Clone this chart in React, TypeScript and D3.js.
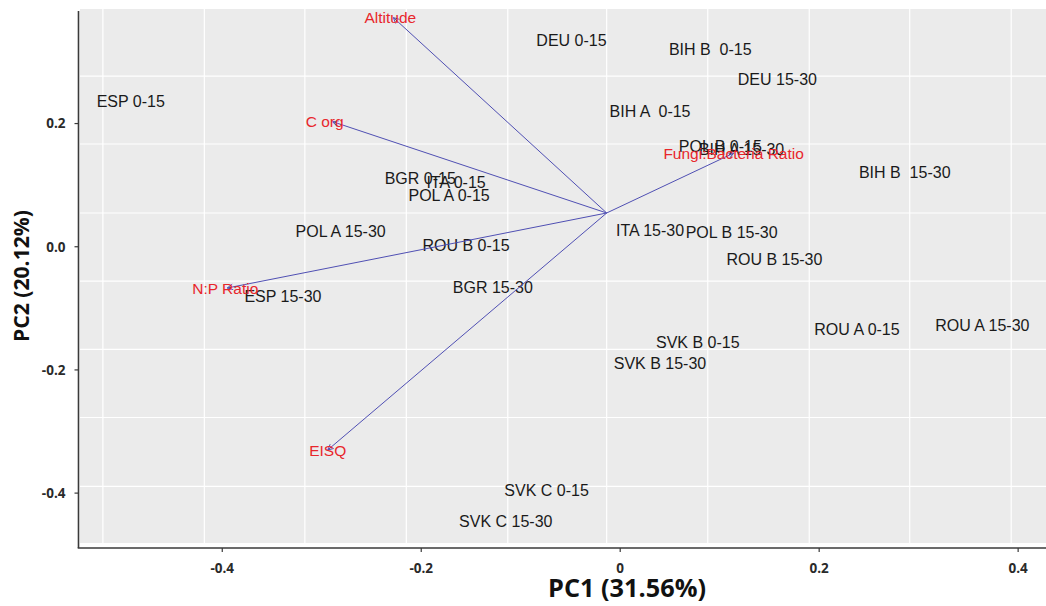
import React from "react";
import * as d3 from "d3";

// sample scores (PC1, PC2)
const sampleNames = [
  "ESP 0-15", "DEU 0-15", "BIH B  0-15", "DEU 15-30", "BIH A  0-15", "POL B 0-15",
  "BIH A 15-30", "BGR 0-15", "ITA 0-15", "POL A 0-15", "POL A 15-30", "ROU B 0-15",
  "ITA 15-30", "POL B 15-30", "ROU B 15-30", "BIH B  15-30", "ESP 15-30", "BGR 15-30",
  "SVK B 0-15", "SVK B 15-30", "ROU A 0-15", "ROU A 15-30", "SVK C 0-15", "SVK C 15-30",
];
const pc1 = [
  -0.492, -0.049, 0.0905, 0.158, 0.030, 0.1006,
  0.122, -0.201, -0.165, -0.172, -0.281, -0.155,
  0.030, 0.112, 0.155, 0.286, -0.339, -0.128,
  0.078, 0.040, 0.238, 0.364, -0.074, -0.115,
];
const pc2 = [
  0.237, 0.336, 0.320, 0.272, 0.220, 0.163,
  0.159, 0.112, 0.105, 0.084, 0.025, 0.003,
  0.027, 0.024, -0.020, 0.121, -0.080, -0.065,
  -0.155, -0.189, -0.134, -0.127, -0.395, -0.446,
];

// variable loadings (arrow tips) and the arrow origin
const varNames = ["Altitude", "C org", "Fungi:Bacteria Ratio", "N:P Ratio", "EISQ"];
const loadX = [-0.228, -0.289, 0.114, -0.395, -0.294];
const loadY = [0.372, 0.203, 0.152, -0.067, -0.330];
const originX = -0.0136;
const originY = 0.0548;

const xTicks = [-0.4, -0.2, 0, 0.2, 0.4];
const xTickLabels = ["-0.4", "-0.2", "0", "0.2", "0.4"];
const yTicks = [0.2, 0, -0.2, -0.4];
const yTickLabels = ["0.2", "0.0", "-0.2", "-0.4"];

// background grid of the original panel (does not line up with the ticks)
const gridX = [-0.520, -0.418, -0.317, -0.215, -0.113, -0.0136, 0.088, 0.19, 0.291, 0.393];
const gridY = [0.277, 0.1668, 0.0548, -0.0557, -0.1667, -0.2772, -0.389];

const W = 1046;
const H = 606;
const panel = { left: 80, right: 1046, top: 9, bottom: 543 };
const axisX = 78.5;
const axisY = 548;

// small nudges of the red labels off the arrow tips
const labelShift = [-3, -8, 0, -2, 0];

export default function App() {
  const x = d3.scaleLinear().domain([-0.543, 0.428]).range([panel.left, panel.right]);
  const y = d3.scaleLinear().domain([-0.481, 0.386]).range([panel.bottom, panel.top]);

  const blue = "#4f4fb3";
  const red = "#e8262b";
  const tickFont = "'Open Sans', 'Liberation Sans', sans-serif";
  const labelFont = "'Liberation Sans', Arial, sans-serif";

  return (
    <svg
      width={W}
      height={H}
      style={{ position: "absolute", left: 0, top: 0, background: "#fff" }}
    >
      <defs>
        <marker
          id="head"
          viewBox="0 0 10 10"
          refX="9"
          refY="5"
          markerWidth="7"
          markerHeight="7"
          orient="auto"
          markerUnits="userSpaceOnUse"
        >
          <path d="M1,1 L9,5 L1,9" fill="none" stroke={blue} strokeWidth="1.3" />
        </marker>
      </defs>

      {/* panel */}
      <rect
        x={panel.left}
        y={panel.top}
        width={panel.right - panel.left}
        height={panel.bottom - panel.top}
        fill="#ebebeb"
      />
      {gridX.map((g, i) => (
        <line key={"gx" + i} x1={x(g)} x2={x(g)} y1={panel.top} y2={panel.bottom} stroke="#fff" strokeWidth={1.2} />
      ))}
      {gridY.map((g, i) => (
        <line key={"gy" + i} x1={panel.left} x2={panel.right} y1={y(g)} y2={y(g)} stroke="#fff" strokeWidth={1.2} />
      ))}

      {/* sample labels */}
      {sampleNames.map((s, i) => (
        <text
          key={"s" + i}
          x={x(pc1[i])}
          y={y(pc2[i])}
          dy="0.36em"
          textAnchor="middle"
          fontFamily={labelFont}
          fontSize={16}
          fill="#1a1a1a"
          style={{ whiteSpace: "pre" }}
        >
          {s}
        </text>
      ))}

      {/* loading arrows */}
      {varNames.map((v, i) => (
        <line
          key={"a" + i}
          x1={x(originX)}
          y1={y(originY)}
          x2={x(loadX[i])}
          y2={y(loadY[i])}
          stroke={blue}
          strokeWidth={1}
          markerEnd="url(#head)"
        />
      ))}
      {varNames.map((v, i) => (
        <text
          key={"v" + i}
          x={x(loadX[i]) + labelShift[i]}
          y={y(loadY[i])}
          dy="0.36em"
          textAnchor="middle"
          fontFamily={labelFont}
          fontSize={15.5}
          fill={red}
        >
          {v}
        </text>
      ))}

      {/* axes */}
      <line x1={axisX} x2={axisX} y1={11} y2={axisY} stroke="#3a3a3a" strokeWidth={1.6} />
      <line x1={axisX - 0.8} x2={W} y1={axisY} y2={axisY} stroke="#3a3a3a" strokeWidth={1.6} />
      {xTicks.map((t, i) => (
        <g key={"xt" + i} transform={`translate(${x(t)},${axisY})`}>
          <line y1={0} y2={4} stroke="#3a3a3a" strokeWidth={1.2} />
          <text
            y={25}
            textAnchor="middle"
            fontFamily={tickFont}
            fontWeight="bold"
            fontSize={13.5}
            fill="#2a2a2a"
          >
            {xTickLabels[i]}
          </text>
        </g>
      ))}
      {yTicks.map((t, i) => (
        <g key={"yt" + i} transform={`translate(${axisX},${y(t)})`}>
          <line x1={-4} x2={0} stroke="#3a3a3a" strokeWidth={1.2} />
          <text
            x={-13}
            dy="0.36em"
            textAnchor="end"
            fontFamily={tickFont}
            fontWeight="bold"
            fontSize={13.5}
            fill="#2a2a2a"
          >
            {yTickLabels[i]}
          </text>
        </g>
      ))}

      {/* axis titles */}
      <text
        x={627}
        y={597}
        textAnchor="middle"
        fontFamily={tickFont}
        fontWeight="bold"
        fontSize={25}
        fill="#111"
        textLength={158}
        lengthAdjust="spacingAndGlyphs"
      >
        PC1 (31.56%)
      </text>
      <text
        transform="translate(29,276) rotate(-90)"
        textAnchor="middle"
        fontFamily={tickFont}
        fontWeight="bold"
        fontSize={21}
        fill="#111"
        textLength={132}
        lengthAdjust="spacingAndGlyphs"
      >
        PC2 (20.12%)
      </text>
    </svg>
  );
}
